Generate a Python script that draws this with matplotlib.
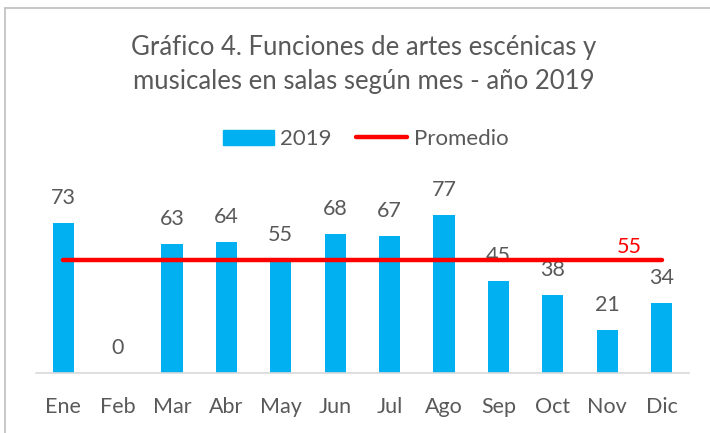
import matplotlib.pyplot as plt
from matplotlib.lines import Line2D

plt.rcParams['font.family'] = ['Lato', 'DejaVu Sans']

# Data
meses = ["Ene", "Feb", "Mar", "Abr", "May", "Jun", "Jul", "Ago", "Sep", "Oct", "Nov", "Dic"]
funciones_2019 = [73, 0, 63, 64, 55, 68, 67, 77, 45, 38, 21, 34]
promedio = 55

titulo_1 = "Gráfico 4. Funciones de artes escénicas y"
titulo_2 = "musicales en salas según mes - año 2019"

AZUL = "#00B0F0"
ROJO = "#FF0000"
GRIS_TXT = "#595959"

fig = plt.figure(figsize=(7.1, 4.33), dpi=100)
ax = fig.add_axes([0.0507, 0.1386, 0.9193, 0.426])

x = list(range(len(meses)))
ax.bar(x, funciones_2019, width=0.39, color=AZUL, label="2019", zorder=2)
ax.plot([x[0], x[-1]], [promedio, promedio], color=ROJO, linewidth=3.2,
        solid_capstyle="round", label="Promedio", zorder=3)

for xi, v in zip(x, funciones_2019):
    ax.annotate(str(v), (xi, v), xytext=(0, 18), textcoords="offset points",
                ha="center", va="center", fontsize=15.5, color=GRIS_TXT, zorder=1)
ax.annotate(str(promedio), (10.4, promedio), xytext=(0, 9.5), textcoords="offset points",
            ha="center", va="center", fontsize=15.5, color=ROJO, zorder=4)

ax.set_xlim(-0.5, len(meses) - 0.5)
ax.set_ylim(0, 90)
ax.set_xticks(x)
ax.set_xticklabels(meses, fontsize=15.5, color=GRIS_TXT)
ax.tick_params(axis="x", length=0, pad=17.5)
ax.set_yticks([])
for s in ["top", "right", "left"]:
    ax.spines[s].set_visible(False)
ax.spines["bottom"].set_color("#D9D9D9")
ax.spines["bottom"].set_linewidth(1.2)

# title
fig.text(0.512, 1 - 47 / 433, titulo_1, ha="center", va="center", fontsize=18.5, color=GRIS_TXT)
fig.text(0.512, 1 - 81 / 433, titulo_2, ha="center", va="center", fontsize=18.5, color=GRIS_TXT)

# legend
handles = [plt.Rectangle((0, 0), 1, 1, color=AZUL),
           Line2D([0], [0], color=ROJO, linewidth=3.2, solid_capstyle="round")]
fig.legend(handles, ["2019", "Promedio"], loc="center", bbox_to_anchor=(0.515, 1 - 139 / 433),
           ncol=2, frameon=False, fontsize=16, handlelength=2.3, handleheight=0.65,
           handletextpad=0.3, columnspacing=1.1, labelcolor=GRIS_TXT)

# chart area border (left and top visible in the reference)
fig.add_artist(Line2D([5 / 710, 5 / 710], [0, 1 - 8 / 433], color="#BFBFBF", linewidth=1.2))
fig.add_artist(Line2D([5 / 710, 1], [1 - 8 / 433, 1 - 8 / 433], color="#BFBFBF", linewidth=1.2))

fig.savefig("out.png", dpi=100)
